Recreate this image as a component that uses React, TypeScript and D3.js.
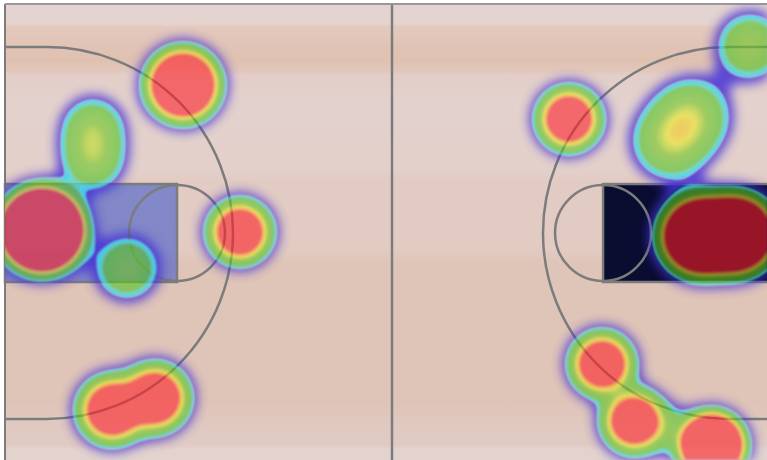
import React, { useMemo } from "react";
import * as d3 from "d3";

// ---------- chart data (court units: feet) ----------
const blobX = [21.62, 10.69, 10.69, 4.49, 14.82, 28.54, 13.0, 18.22, 68.5, 80.76, 83.43, 90.48, 84.41, 88.78, 72.5, 76.39, 85.86, 81.0];
const blobY = [9.84, 15.06, 18.95, 27.45, 32.06, 27.69, 49.31, 47.85, 13.97, 16.76, 13.6, 5.1, 28.2, 28.0, 43.72, 50.64, 53.56, 51.74];
const blobWeight = [6.6, 0.56, 0.56, 19.6, 0.6, 3.17, 3.5, 3.5, 3.17, 0.65, 0.65, 0.6, 8.03, 8.03, 3.17, 3.17, 10.4, 0.3];
const blobSpread = [2.02, 2.36, 2.36, 2.09, 2.43, 1.91, 2.0, 2.0, 1.91, 2.79, 2.79, 2.54, 2.18, 2.18, 1.91, 1.91, 1.73, 2.0];

// colour scale of the heat layer
const heatStops = [0.2, 0.25, 0.28, 0.31, 0.65, 0.88, 1.05, 1.2, 1.3];
const heatColors = ["#30ccf8", "#48dcec", "#60d498", "#4cc428", "#72c81e", "#ecec1e", "#fab41e", "#ff5030", "#ff1a24"];
const heatAlphas = [0.85, 0.82, 0.7, 0.62, 0.6, 0.6, 0.6, 0.6, 0.58];
const HALO_LEVEL = 0.13;

// court geometry (feet)
const COURT_W = 94;
const COURT_H = 55.62;
const MID_X = 47;
const FT_LINE = [20.89, 72.63];
const KEY_Y = [21.86, 33.76];
const BASKET_Y = 27.81;
const FT_R = 5.83;
const ARC_CX = [5.1, 87.93];
const ARC_R = 22.59;

// wood background bands (fraction of court height, colour)
const woodOffsets = [0, 0.044, 0.05, 0.09, 0.123, 0.145, 0.156, 0.21, 0.364, 0.386, 0.54, 0.566, 0.868, 0.912, 0.966, 0.978, 1];
const woodColors = ["#e4d4d1", "#e4d3cf", "#e3c9bd", "#e1c4b6", "#e0c1b1", "#e1c6b9", "#e3cec8", "#e3d1cd", "#e3d0cb", "#e2cbc3", "#e2cbc2", "#dfc4b8", "#dfc4b8", "#dfc8bf", "#e0cbc3", "#e3d3ce", "#e3d3ce"];

const W = 767;
const H = 460;
const STEP = 2;

function heatColor(t: number): [string, number] {
  if (t <= heatStops[0]) return [heatColors[0], heatAlphas[0]];
  for (let i = 1; i < heatStops.length; i++) {
    if (t <= heatStops[i]) {
      const f = (t - heatStops[i - 1]) / (heatStops[i] - heatStops[i - 1]);
      return [d3.interpolateRgb(heatColors[i - 1], heatColors[i])(f), heatAlphas[i - 1] + (heatAlphas[i] - heatAlphas[i - 1]) * f];
    }
  }
  const n = heatStops.length - 1;
  return [heatColors[n], heatAlphas[n]];
}

export default function App() {
  const x = d3.scaleLinear().domain([0, COURT_W]).range([5, 779]);
  const y = d3.scaleLinear().domain([0, COURT_H]).range([4, 462]);
  const k = x(1) - x(0);

  const { bands, halo } = useMemo(() => {
    const nx = Math.ceil(W / STEP);
    const ny = Math.ceil(H / STEP);
    const vals = new Array(nx * ny);
    const bx = blobX.map((v) => x(v));
    const by = blobY.map((v) => y(v));
    const bs = blobSpread.map((s) => 2 * (s * k) * (s * k));
    for (let j = 0; j < ny; j++) {
      const py = j * STEP + STEP / 2;
      for (let i = 0; i < nx; i++) {
        const px = i * STEP + STEP / 2;
        let v = 0;
        for (let b = 0; b < bx.length; b++) {
          const dx = px - bx[b];
          const dy = py - by[b];
          v += blobWeight[b] * Math.exp(-(dx * dx + dy * dy) / bs[b]);
        }
        vals[j * nx + i] = v;
      }
    }
    const path = d3.geoPath(d3.geoIdentity().scale(STEP) as any);
    const thr = d3.range(0.2, 1.36, 0.01);
    const bands = d3
      .contours()
      .size([nx, ny])
      .thresholds(thr)(vals)
      .map((c) => {
        const [col, a] = heatColor(c.value + 0.005);
        return { d: path(c as any) || "", col, a };
      });
    const haloC = d3.contours().size([nx, ny]).thresholds([HALO_LEVEL])(vals)[0];
    return { bands, halo: path(haloC as any) || "" };
  }, []);

  const cy = y(BASKET_Y);
  const R = ARC_R * k;
  const top = y(BASKET_Y - ARC_R);
  const bot = y(BASKET_Y + ARC_R);
  const leftArc = `M${x(0)},${top}L${x(ARC_CX[0])},${top}A${R},${R} 0 0 1 ${x(ARC_CX[0])},${bot}L${x(0)},${bot}`;
  const rightArc = `M${x(COURT_W)},${top}L${x(ARC_CX[1])},${top}A${R},${R} 0 0 0 ${x(ARC_CX[1])},${bot}L${x(COURT_W)},${bot}`;
  const lineCol = "#7c7c7c";

  return (
    <svg width={W} height={H} style={{ position: "absolute", left: 0, top: 0, display: "block", background: "#fff" }}>
      <defs>
        <linearGradient id="wood" x1="0" y1="0" x2="0" y2="1">
          {woodOffsets.map((o, i) => (
            <stop key={i} offset={o} stopColor={woodColors[i]} />
          ))}
        </linearGradient>
        <clipPath id="court">
          <rect x={x(0)} y={y(0)} width={W - x(0)} height={H - y(0)} />
        </clipPath>
        <filter id="soft" x="0" y="0" width={W} height={H} filterUnits="userSpaceOnUse">
          <feGaussianBlur stdDeviation="0.8" />
        </filter>
        <filter id="glow" x="0" y="0" width={W} height={H} filterUnits="userSpaceOnUse">
          <feGaussianBlur stdDeviation="5.5" />
        </filter>
        <mask id="heatMask" maskUnits="userSpaceOnUse" x="0" y="0" width={W} height={H}>
          <g filter="url(#soft)">
            {bands.map((c, i) => {
              const g = Math.round(c.a * 255);
              return <path key={i} d={c.d} fill={`rgb(${g},${g},${g})`} />;
            })}
          </g>
        </mask>
        <mask id="haloMask" maskUnits="userSpaceOnUse" x="0" y="0" width={W} height={H}>
          <rect x="0" y="0" width={W} height={H} fill="#fff" />
          {bands.length > 0 && <path d={bands[0].d} fill="#000" filter="url(#soft)" />}
        </mask>
      </defs>

      <rect x={x(0)} y={y(0)} width={W - x(0)} height={H - y(0)} fill="url(#wood)" />

      {/* paint areas */}
      <rect x={x(0)} y={y(KEY_Y[0])} width={x(FT_LINE[0]) - x(0)} height={y(KEY_Y[1]) - y(KEY_Y[0])} fill="#3c58cc" fillOpacity={0.58} />
      <rect x={x(FT_LINE[1])} y={y(KEY_Y[0])} width={x(COURT_W) - x(FT_LINE[1])} height={y(KEY_Y[1]) - y(KEY_Y[0])} fill="#0a0c30" />

      {/* court lines */}
      <g fill="none" stroke={lineCol} strokeWidth={2.5}>
        <line x1={x(MID_X)} x2={x(MID_X)} y1={y(0)} y2={H} />
        <line x1={x(0)} x2={x(0)} y1={y(0)} y2={H} strokeWidth={2} />
        <line x1={x(0)} x2={W} y1={y(0)} y2={y(0)} strokeWidth={2} stroke="#999" />
        <rect x={x(0)} y={y(KEY_Y[0])} width={x(FT_LINE[0]) - x(0)} height={y(KEY_Y[1]) - y(KEY_Y[0])} />
        <rect x={x(FT_LINE[1])} y={y(KEY_Y[0])} width={x(COURT_W) - x(FT_LINE[1])} height={y(KEY_Y[1]) - y(KEY_Y[0])} />
        <circle cx={x(FT_LINE[0])} cy={cy} r={FT_R * k} />
        <circle cx={x(FT_LINE[1])} cy={cy} r={FT_R * k} />
        <path d={leftArc} />
        <path d={rightArc} />
      </g>

      {/* heat layer */}
      <g clipPath="url(#court)">
        <g mask="url(#haloMask)">
          <path d={halo} fill="#4432d6" opacity={0.85} filter="url(#glow)" />
        </g>
        <g mask="url(#heatMask)">
          <g filter="url(#soft)">
            {bands.map((c, i) => (
              <path key={i} d={c.d} fill={c.col} />
            ))}
          </g>
        </g>
      </g>
    </svg>
  );
}
